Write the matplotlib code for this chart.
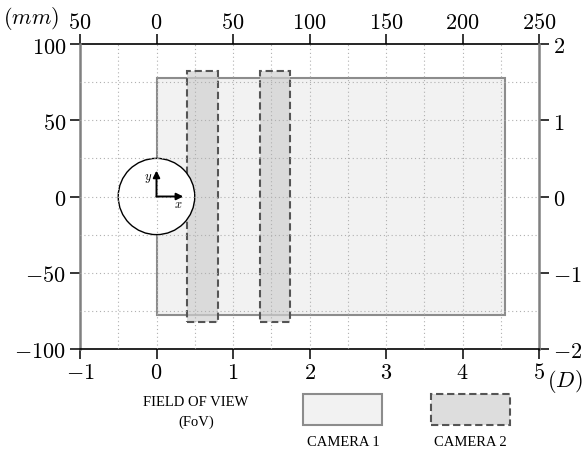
import matplotlib
matplotlib.use("Agg")
import matplotlib.pyplot as plt
from matplotlib.patches import Rectangle, Ellipse

plt.rcParams['mathtext.fontset'] = 'cm'
plt.rcParams['font.family'] = ['DejaVu Serif']

# ---- data ----
x_ticks_D = [-1, 0, 1, 2, 3, 4, 5]
x_ticks_mm = [-50, 0, 50, 100, 150, 200, 250]
x_ticks_mm_labels = ['50', '0', '50', '100', '150', '200', '250']
y_ticks_mm = [-100, -50, 0, 50, 100]
y_ticks_D = [-2, -1, 0, 1, 2]

cam1_x = [0.0, 4.55]          # D
cam1_y = [-77.5, 77.5]        # mm
cam2_x_start = [0.40, 1.35]   # D
cam2_width = 0.40             # D
cam2_y = [-82.5, 82.5]        # mm
cyl_diameter_D = 1.0
cyl_diameter_mm = 50.0
arrow_x_len = 0.35            # D
arrow_y_len = 17.0            # mm
grid_x = [-0.5, 0, 0.5, 1, 1.5, 2, 2.5, 3, 3.5, 4, 4.5]
grid_y = [-75, -50, -25, 0, 25, 50, 75]

W, H = 582, 452
fig = plt.figure(figsize=(W / 100, H / 100), dpi=100)
ax = fig.add_axes([80 / W, 1 - 350 / H, (539 - 80) / W, (350 - 45) / H])
ax.set_xlim(-1, 5)
ax.set_ylim(-100, 100)

gray_spine = '#808080'
fs = 16

# camera 1
ax.add_patch(Rectangle((cam1_x[0], cam1_y[0]), cam1_x[1] - cam1_x[0], cam1_y[1] - cam1_y[0],
                       facecolor='#f2f2f2', edgecolor='#8c8c8c', lw=1.5, zorder=1))
# camera 2
for xs in cam2_x_start:
    ax.add_patch(Rectangle((xs, cam2_y[0]), cam2_width, cam2_y[1] - cam2_y[0],
                           facecolor='#d0d0d0', alpha=0.7, edgecolor='none', zorder=2))
    ax.add_patch(Rectangle((xs, cam2_y[0]), cam2_width, cam2_y[1] - cam2_y[0],
                           facecolor='none', edgecolor='#555555', lw=1.5,
                           linestyle=(0, (3.5, 1.8)), zorder=2.1))

# cylinder
ax.add_patch(Ellipse((0, 0), cyl_diameter_D, cyl_diameter_mm, facecolor='white',
                     edgecolor='black', lw=1.0, zorder=3))

# grid (drawn on top)
for gx in grid_x:
    ax.axvline(gx, color='#b0b0b0', lw=0.8, linestyle=(0, (1, 2.5)), zorder=4)
for gy in grid_y:
    ax.axhline(gy, color='#b0b0b0', lw=0.8, linestyle=(0, (1, 2.5)), zorder=4)

# axes arrows
ax.annotate('', xy=(arrow_x_len, 0), xytext=(0, 0),
            arrowprops=dict(arrowstyle='-|>', color='black', lw=1.4, mutation_scale=10,
                            shrinkA=0, shrinkB=0), zorder=5)
ax.annotate('', xy=(0, arrow_y_len), xytext=(0, 0),
            arrowprops=dict(arrowstyle='-|>', color='black', lw=1.4, mutation_scale=10,
                            shrinkA=0, shrinkB=0), zorder=5)
ax.text(0.29, -4.5, r'$x$', fontsize=9, ha='center', va='center', zorder=6)
ax.text(-0.11, 12.5, r'$y$', fontsize=9, ha='center', va='center', zorder=6)

# spines
ax.spines['left'].set_color(gray_spine)
ax.spines['left'].set_linewidth(1.8)
ax.spines['bottom'].set_color('black')
ax.spines['bottom'].set_linewidth(1.2)
ax.spines['top'].set_visible(False)
ax.spines['right'].set_visible(False)

ax.set_xticks(x_ticks_D, labels=[r'$%d$' % v for v in x_ticks_D])
ax.set_yticks(y_ticks_mm, labels=[r'$%d$' % v for v in y_ticks_mm])
ax.tick_params(axis='both', direction='out', length=7, width=1.1, color='black',
               labelsize=fs, pad=3)
ax.tick_params(axis='x', pad=2)

secx = ax.secondary_xaxis('top', functions=(lambda x: x * 50, lambda x: x / 50))
secx.set_xticks(x_ticks_mm, labels=[r'$%s$' % s for s in x_ticks_mm_labels])
secx.tick_params(direction='out', length=7, width=1.1, labelsize=fs, pad=1)
secx.spines['top'].set_color('black')
secx.spines['top'].set_linewidth(1.2)

secy = ax.secondary_yaxis('right', functions=(lambda y: y / 50, lambda y: y * 50))
secy.set_yticks(y_ticks_D, labels=[r'$%d$' % v for v in y_ticks_D])
secy.tick_params(direction='out', length=7, width=1.1, labelsize=fs, pad=3)
secy.spines['right'].set_color(gray_spine)
secy.spines['right'].set_linewidth(1.8)

fig.text(31 / W, 1 - 19 / H, r'$(mm)$', fontsize=fs, ha='center', va='center')
fig.text(565 / W, 1 - 368 / H, r'$(D)$', fontsize=fs, ha='center', va='top')

# legend area
serif = ['Liberation Serif', 'DejaVu Serif']
lfs = 10.5
fig.text(196 / W, 1 - 403 / H, 'FIELD OF VIEW', fontsize=lfs, family=serif,
         ha='center', va='center')
fig.text(196 / W, 1 - 422 / H, '(FoV)', fontsize=lfs, family=serif,
         ha='center', va='center')
fig.patches.append(Rectangle((303 / W, 1 - 426 / H), 79 / W, 31 / H,
                             transform=fig.transFigure, facecolor='#f2f2f2',
                             edgecolor='#8c8c8c', lw=1.5))
fig.patches.append(Rectangle((431 / W, 1 - 426 / H), 79 / W, 31 / H,
                             transform=fig.transFigure, facecolor='#dddddd',
                             edgecolor='#555555', lw=1.5, linestyle=(0, (3.5, 1.8))))
fig.text(343 / W, 1 - 443 / H, 'CAMERA 1', fontsize=lfs, family=serif,
         ha='center', va='center')
fig.text(470 / W, 1 - 443 / H, 'CAMERA 2', fontsize=lfs, family=serif,
         ha='center', va='center')

fig.savefig('out.png', dpi=100)
